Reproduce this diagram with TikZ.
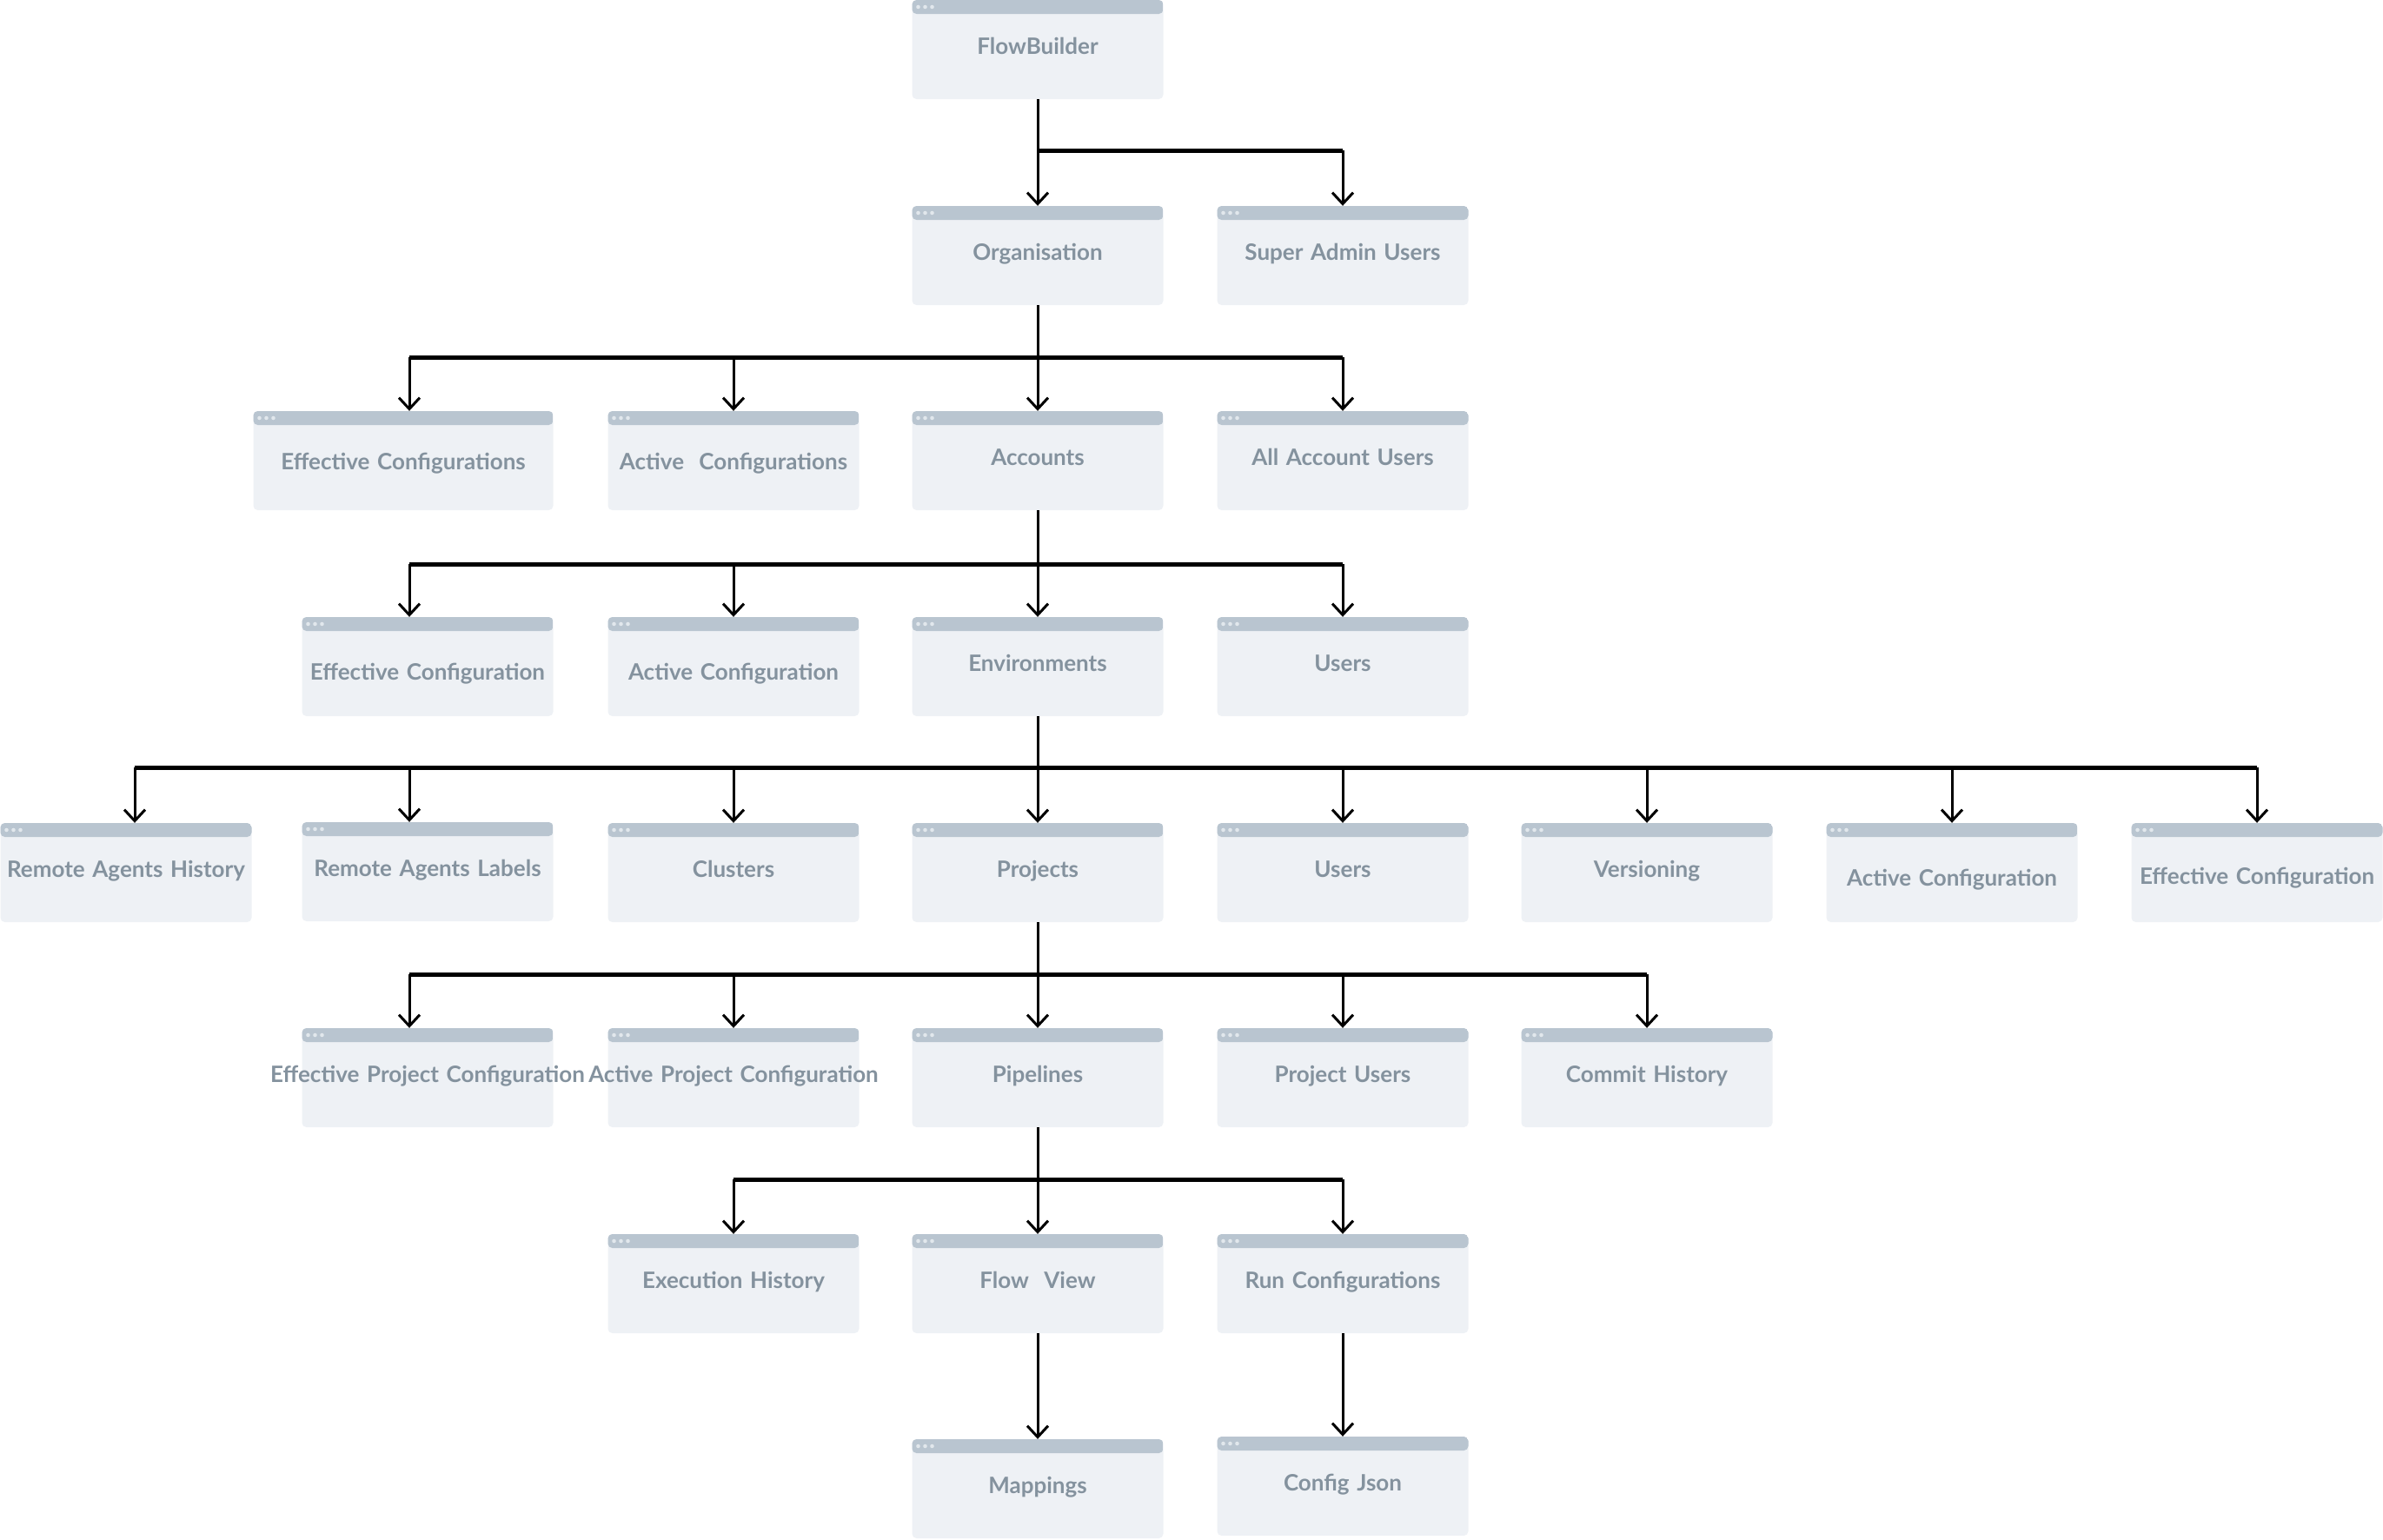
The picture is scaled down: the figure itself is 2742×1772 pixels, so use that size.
\documentclass[tikz,border=0pt]{standalone}
\usepackage{fontspec}
\setmainfont{Lato}
\usetikzlibrary{arrows.meta}
\definecolor{boxfill}{HTML}{EEF1F5}
\definecolor{barblue}{HTML}{B9C5D0}
\definecolor{dotgray}{HTML}{E1E7EC}
\definecolor{labelgray}{HTML}{84929E}

\begin{document}
\begin{tikzpicture}[x=1pt, y=-1pt,
  >={Straight Barb[length=13pt, width=24pt]},
  winbox/.style={
    rectangle, rounded corners=5pt, fill=boxfill,
    minimum width=289pt, minimum height=114pt, inner sep=0pt,
    text width=289pt, align=center,
    font=\fontsize{26}{31}\selectfont\bfseries, text=labelgray,
    text height=18pt, text depth=8pt,
    path picture={
      \fill[barblue] (path picture bounding box.north west)
        rectangle ([yshift=-16pt]path picture bounding box.north east);
      \foreach \dx in {7,15,23}
        \fill[dotgray] ([xshift=\dx pt, yshift=-8pt]path picture bounding box.north west)
          circle (2.3pt);
    }
  },
  widebox/.style={minimum width=345pt, text width=345pt},
  lowtext/.style={text height=#1, text depth=0pt},
  lowtext/.default=30pt,
  stem/.style={line width=3pt, black},
  bus/.style={line width=5pt, black},
  drop/.style={->, line width=3pt, black},
]

\useasboundingbox (0,0) rectangle (2742,1772);

% ---- Level 0 ----
\node[winbox] (flow) at (1194,57) {FlowBuilder};

% ---- Level 1 ----
\node[winbox] (org)      at (1194,294) {Organisation};
\node[winbox] (superadm) at (1545,294) {Super Admin Users};

% ---- Level 2 ----
\node[winbox, widebox, lowtext=21pt] (effcfgs) at (464,530) {Effective Configurations};
\node[winbox, lowtext=21pt] (actcfgs)  at (844,530)  {Active~ Configurations};
\node[winbox] (accounts) at (1194,530) {Accounts};
\node[winbox] (accusers) at (1545,530) {All Account Users};

% ---- Level 3 ----
\node[winbox, lowtext] (effcfg) at (492,767) {Effective Configuration};
\node[winbox, lowtext] (actcfg) at (844,767) {Active Configuration};
\node[winbox] (envs)   at (1194,767) {Environments};
\node[winbox] (users)  at (1545,767) {Users};

% ---- Level 4 ----
\node[winbox] (ragh)       at (145,1004)  {Remote Agents History};
\node[winbox] (ragl)       at (492,1003)  {Remote Agents Labels};
\node[winbox] (clusters)   at (844,1004)  {Clusters};
\node[winbox] (projects)   at (1194,1004) {Projects};
\node[winbox] (envusers)   at (1545,1004) {Users};
\node[winbox] (versioning) at (1895,1004) {Versioning};
\node[winbox, lowtext] (envactcfg) at (2246,1004) {Active Configuration};
\node[winbox, lowtext=26pt] (enveffcfg) at (2597,1004) {Effective Configuration};

% ---- Level 5 ----
\node[winbox] (effproj)   at (492,1240)  {\makebox[0pt]{Effective Project Configuration}};
\node[winbox] (actproj)   at (844,1240)  {\makebox[0pt]{Active Project Configuration}};
\node[winbox] (pipelines) at (1194,1240) {Pipelines};
\node[winbox] (projusers) at (1545,1240) {Project Users};
\node[winbox] (commits)   at (1895,1240) {Commit History};

% ---- Level 6 ----
\node[winbox] (exechist) at (844,1477)  {Execution History};
\node[winbox] (flowview) at (1194,1477) {Flow~ View};
\node[winbox] (runcfgs)  at (1545,1477) {Run Configurations};

% ---- Level 7 ----
\node[winbox] (mappings) at (1194,1713) {Mappings};
\node[winbox] (cfgjson)  at (1545,1710) {Config Json};

% ---- Bus heights and offset drop columns ----
\coordinate (b1) at (0,173);
\coordinate (b2) at (0,411);
\coordinate (b3) at (0,649);
\coordinate (b4) at (0,883);
\coordinate (b5) at (0,1121);
\coordinate (b6) at (0,1357);
\coordinate (colA) at (155,0);
\coordinate (colB) at (471,0);

% ---- FlowBuilder -> level 1 ----
\draw[stem] (flow.south) -- (flow |- b1);
\draw[bus] (flow |- b1) -- (superadm |- b1);
\draw[drop] (flow |- b1) -- (org.north);
\draw[drop] (superadm |- b1) -- (superadm.north);

% ---- Organisation -> level 2 ----
\draw[stem] (org.south) -- (org |- b2);
\draw[bus] (colB |- b2) -- (accusers |- b2);
\draw[drop] (colB |- b2) -- (effcfgs.north -| colB);
\draw[drop] (actcfgs |- b2) -- (actcfgs.north);
\draw[drop] (accounts |- b2) -- (accounts.north);
\draw[drop] (accusers |- b2) -- (accusers.north);

% ---- Accounts -> level 3 ----
\draw[stem] (accounts.south) -- (accounts |- b3);
\draw[bus] (colB |- b3) -- (users |- b3);
\draw[drop] (colB |- b3) -- (effcfg.north -| colB);
\draw[drop] (actcfg |- b3) -- (actcfg.north);
\draw[drop] (envs |- b3) -- (envs.north);
\draw[drop] (users |- b3) -- (users.north);

% ---- Environments -> level 4 ----
\draw[stem] (envs.south) -- (envs |- b4);
\draw[bus] (colA |- b4) -- (enveffcfg |- b4);
\draw[drop] (colA |- b4) -- (ragh.north -| colA);
\draw[drop] (colB |- b4) -- (ragl.north -| colB);
\draw[drop] (clusters |- b4) -- (clusters.north);
\draw[drop] (projects |- b4) -- (projects.north);
\draw[drop] (envusers |- b4) -- (envusers.north);
\draw[drop] (versioning |- b4) -- (versioning.north);
\draw[drop] (envactcfg |- b4) -- (envactcfg.north);
\draw[drop] (enveffcfg |- b4) -- (enveffcfg.north);

% ---- Projects -> level 5 ----
\draw[stem] (projects.south) -- (projects |- b5);
\draw[bus] (colB |- b5) -- (commits |- b5);
\draw[drop] (colB |- b5) -- (effproj.north -| colB);
\draw[drop] (actproj |- b5) -- (actproj.north);
\draw[drop] (pipelines |- b5) -- (pipelines.north);
\draw[drop] (projusers |- b5) -- (projusers.north);
\draw[drop] (commits |- b5) -- (commits.north);

% ---- Pipelines -> level 6 ----
\draw[stem] (pipelines.south) -- (pipelines |- b6);
\draw[bus] (exechist |- b6) -- (runcfgs |- b6);
\draw[drop] (exechist |- b6) -- (exechist.north);
\draw[drop] (flowview |- b6) -- (flowview.north);
\draw[drop] (runcfgs |- b6) -- (runcfgs.north);

% ---- Level 7 ----
\draw[drop] (flowview.south) -- (mappings.north);
\draw[drop] (runcfgs.south) -- (cfgjson.north);

\end{tikzpicture}
\end{document}
